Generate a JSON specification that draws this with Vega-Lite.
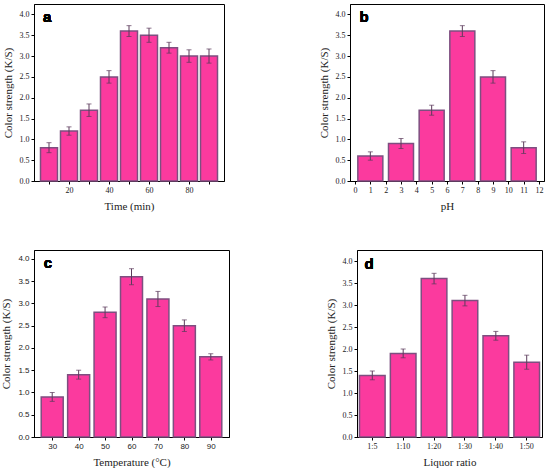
{
  "$schema": "https://vega.github.io/schema/vega-lite/v6.json",
  "padding": {"left": 0, "top": 3, "right": 0, "bottom": 0},
  "background": "white",
  "datasets": {
    "a": [
      {"x": 10, "v": 0.8, "e": 0.12},
      {"x": 20, "v": 1.2, "e": 0.1},
      {"x": 30, "v": 1.7, "e": 0.15},
      {"x": 40, "v": 2.5, "e": 0.15},
      {"x": 50, "v": 3.6, "e": 0.13},
      {"x": 60, "v": 3.5, "e": 0.17},
      {"x": 70, "v": 3.2, "e": 0.13},
      {"x": 80, "v": 3.0, "e": 0.15},
      {"x": 90, "v": 3.0, "e": 0.17}
    ],
    "b": [
      {"x": 1, "v": 0.6, "e": 0.1},
      {"x": 3, "v": 0.9, "e": 0.12},
      {"x": 5, "v": 1.7, "e": 0.12},
      {"x": 7, "v": 3.6, "e": 0.13},
      {"x": 9, "v": 2.5, "e": 0.15},
      {"x": 11, "v": 0.8, "e": 0.14}
    ],
    "c": [
      {"x": 30, "v": 0.9, "e": 0.1},
      {"x": 40, "v": 1.4, "e": 0.1},
      {"x": 50, "v": 2.8, "e": 0.12},
      {"x": 60, "v": 3.6, "e": 0.18},
      {"x": 70, "v": 3.1, "e": 0.17},
      {"x": 80, "v": 2.5, "e": 0.13},
      {"x": 90, "v": 1.8, "e": 0.07}
    ],
    "d": [
      {"x": "1:5", "v": 1.4, "e": 0.1},
      {"x": "1:10", "v": 1.9, "e": 0.1},
      {"x": "1:20", "v": 3.6, "e": 0.12},
      {"x": "1:30", "v": 3.1, "e": 0.12},
      {"x": "1:40", "v": 2.3, "e": 0.1},
      {"x": "1:50", "v": 1.7, "e": 0.16}
    ]
  },
  "vconcat": [
    {
      "hconcat": [
        {
          "width": 190, "height": 177,
          "data": {"name": "a"},
          "encoding": {
            "x": {"field": "x", "type": "quantitative", "scale": {"domain": [5, 95], "nice": false, "zero": false},
              "axis": {"title": "Time (min)", "values": [10, 20, 30, 40, 50, 60, 70, 80, 90], "labelExpr": "datum.value % 20 == 0 ? datum.label : ''"}},
            "y": {"field": "v", "type": "quantitative", "scale": {"domain": [0, 4.25], "nice": false},
              "axis": {"title": "Color strength (K/S)", "values": [0, 0.5, 1, 1.5, 2, 2.5, 3, 3.5, 4], "format": ".1f"}}
          },
          "layer": [
            {"mark": {"type": "bar", "size": 17, "fill": "#FB3A9E", "stroke": "#7D4F80", "strokeWidth": 1.5}},
            {"mark": {"type": "errorbar", "ticks": {"size": 5}, "color": "#5b3b5b", "thickness": 1}, "encoding": {"yError": {"field": "e"}}},
            {"mark": {"type": "text", "text": "a", "font": "Liberation Sans", "fontWeight": "bold", "fontSize": 15, "align": "left", "baseline": "middle"},
              "encoding": {"x": {"datum": 7}, "y": {"datum": 3.93}}}
          ]
        },
        {
          "width": 194, "height": 177,
          "data": {"name": "b"},
          "encoding": {
            "x": {"field": "x", "type": "quantitative", "scale": {"domain": [0, 12], "nice": false},
              "axis": {"title": "pH", "values": [0, 1, 2, 3, 4, 5, 6, 7, 8, 9, 10, 11, 12]}},
            "y": {"field": "v", "type": "quantitative", "scale": {"domain": [0, 4.25], "nice": false},
              "axis": {"title": "Color strength (K/S)", "values": [0, 0.5, 1, 1.5, 2, 2.5, 3, 3.5, 4], "format": ".1f"}}
          },
          "layer": [
            {"mark": {"type": "bar", "size": 25, "fill": "#FB3A9E", "stroke": "#7D4F80", "strokeWidth": 1.5}},
            {"mark": {"type": "errorbar", "ticks": {"size": 5}, "color": "#5b3b5b", "thickness": 1}, "encoding": {"yError": {"field": "e"}}},
            {"mark": {"type": "text", "text": "b", "font": "Liberation Sans", "fontWeight": "bold", "fontSize": 15, "align": "left", "baseline": "middle"},
              "encoding": {"x": {"datum": 0.3}, "y": {"datum": 3.93}}}
          ]
        }
      ],
      "spacing": 92
    },
    {
      "hconcat": [
        {
          "width": 195, "height": 187,
          "data": {"name": "c"},
          "encoding": {
            "x": {"field": "x", "type": "quantitative", "scale": {"domain": [25, 95], "nice": false, "zero": false},
              "axis": {"title": "Temperature (°C)", "values": [30, 40, 50, 60, 70, 80, 90], "labelFont": "Liberation Sans"}},
            "y": {"field": "v", "type": "quantitative", "scale": {"domain": [0, 4.2], "nice": false},
              "axis": {"title": "Color strength (K/S)", "values": [0, 0.5, 1, 1.5, 2, 2.5, 3, 3.5, 4], "format": ".1f", "labelFont": "Liberation Sans"}}
          },
          "layer": [
            {"mark": {"type": "bar", "size": 22, "fill": "#FB3A9E", "stroke": "#7D4F80", "strokeWidth": 1.5}},
            {"mark": {"type": "errorbar", "ticks": {"size": 5}, "color": "#5b3b5b", "thickness": 1}, "encoding": {"yError": {"field": "e"}}},
            {"mark": {"type": "text", "text": "c", "font": "Liberation Sans", "fontWeight": "bold", "fontSize": 15, "align": "left", "baseline": "middle"},
              "encoding": {"x": {"datum": 26.8}, "y": {"datum": 3.9}}}
          ]
        },
        {
          "width": 185, "height": 187,
          "data": {"name": "d"},
          "encoding": {
            "x": {"field": "x", "type": "nominal", "sort": null, "scale": {"paddingInner": 0.17, "paddingOuter": 0.08},
              "axis": {"title": "Liquor ratio", "labelAngle": 0}},
            "y": {"field": "v", "type": "quantitative", "scale": {"domain": [0, 4.25], "nice": false},
              "axis": {"title": "Color strength (K/S)", "values": [0, 0.5, 1, 1.5, 2, 2.5, 3, 3.5, 4], "format": ".1f"}}
          },
          "layer": [
            {"mark": {"type": "bar", "fill": "#FB3A9E", "stroke": "#7D4F80", "strokeWidth": 1.5}},
            {"mark": {"type": "errorbar", "ticks": {"size": 5}, "color": "#5b3b5b", "thickness": 1}, "encoding": {"yError": {"field": "e"}}},
            {"mark": {"type": "text", "text": "d", "font": "Liberation Sans", "fontWeight": "bold", "fontSize": 15, "align": "left", "baseline": "middle"},
              "encoding": {"x": {"datum": "1:5", "bandPosition": 0.2}, "y": {"datum": 3.93}}}
          ]
        }
      ],
      "spacing": 94
    }
  ],
  "spacing": 37,
  "config": {
    "view": {"stroke": "black", "strokeWidth": 1},
    "axis": {
      "grid": false,
      "labelFont": "Liberation Serif",
      "labelFontSize": 8,
      "labelColor": "#222",
      "titleFont": "Liberation Serif",
      "titleFontSize": 11,
      "titleFontWeight": "normal",
      "titleColor": "#222",
      "tickColor": "black",
      "tickSize": 3,
      "domainColor": "black",
      "labelPadding": 2,
      "titlePadding": 6
    }
  }
}
